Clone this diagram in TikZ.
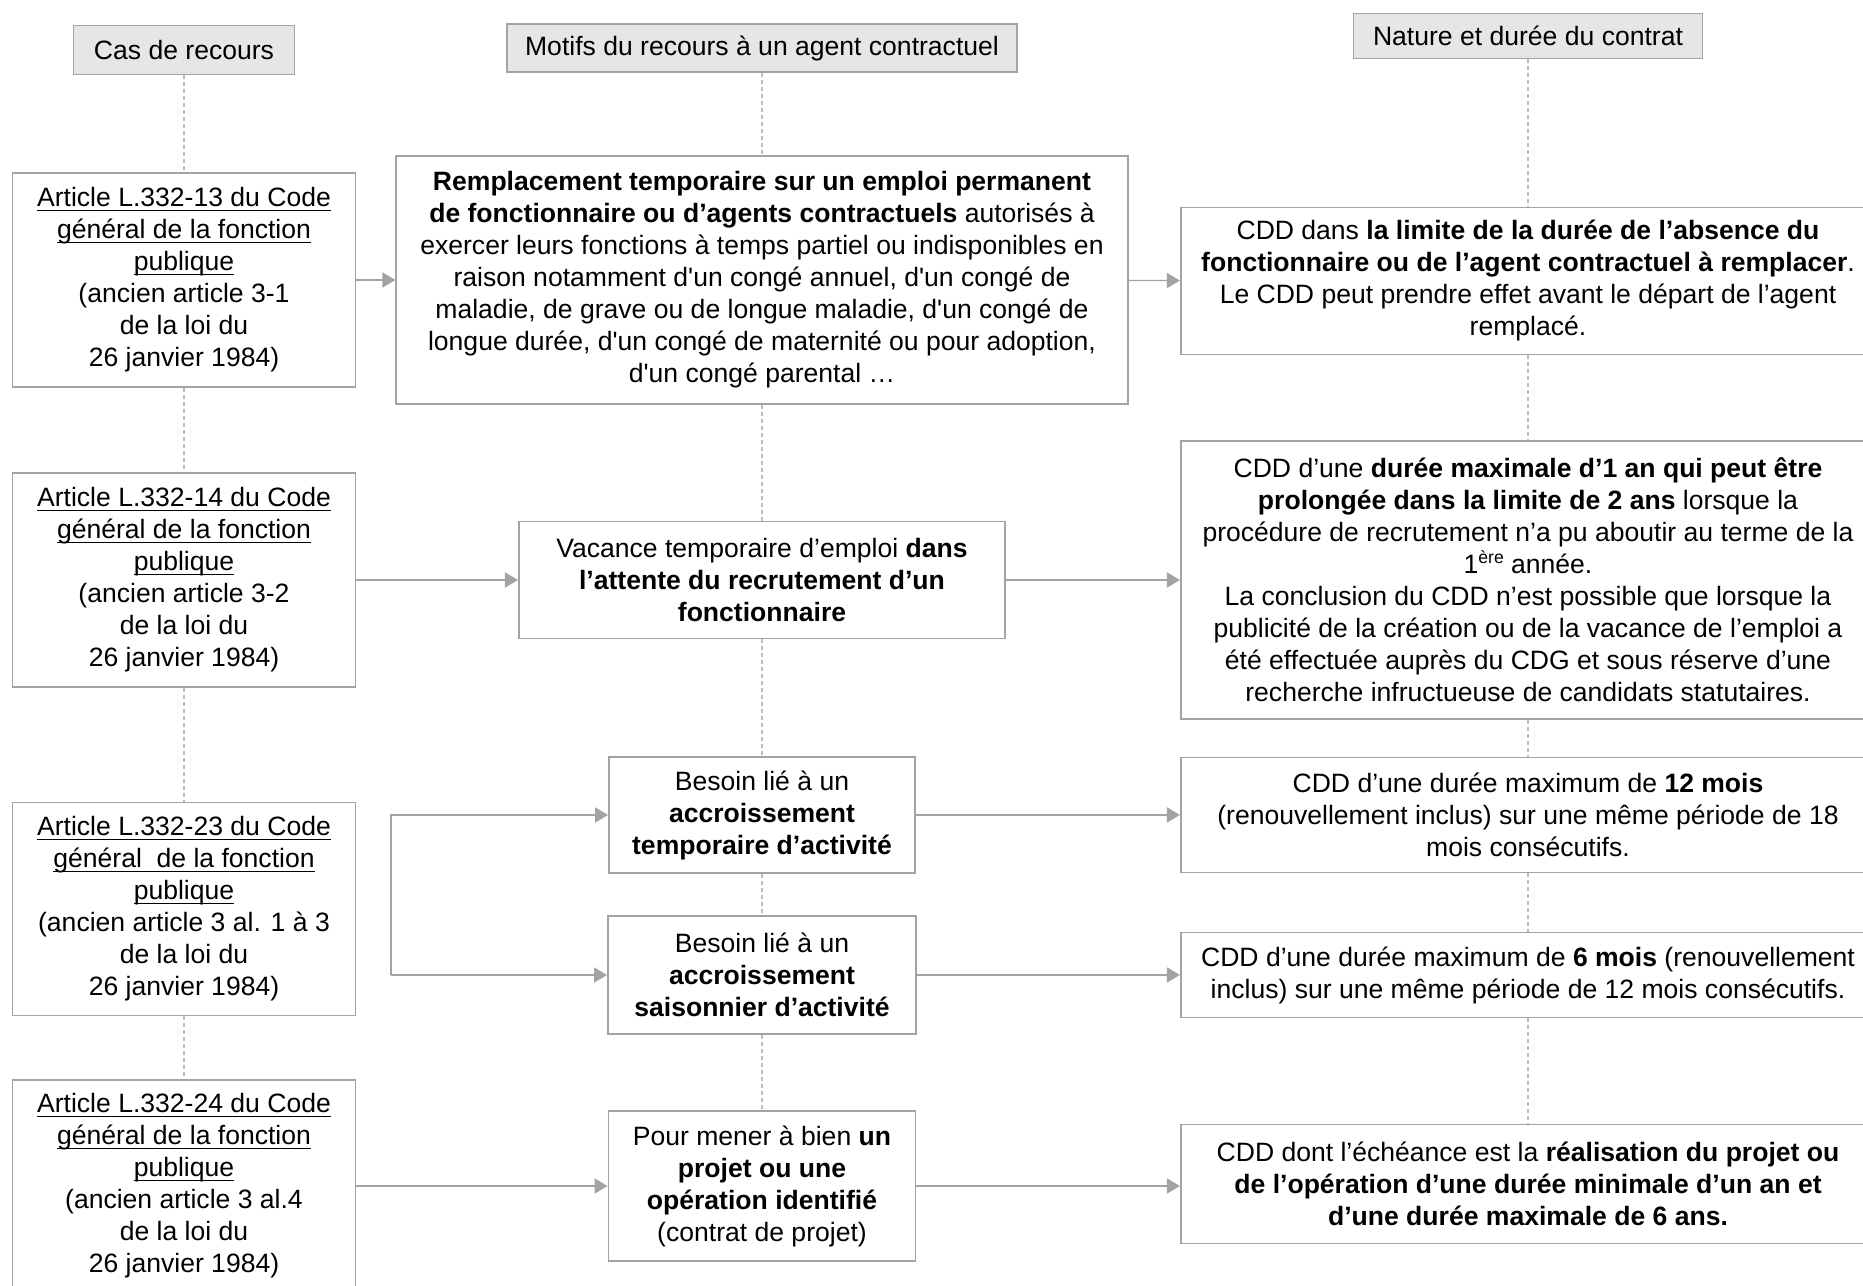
\documentclass[tikz,border=0pt]{standalone}
\usepackage{fontspec}
\setmainfont{Liberation Sans}
\usetikzlibrary{arrows.meta}
\definecolor{boxgray}{HTML}{A3A3A3}
\definecolor{headfill}{HTML}{E6E6E6}
\definecolor{dashgray}{HTML}{BDBDBD}
\newcommand\ulin[1]{\leavevmode\setbox0\hbox{#1}\rlap{\rule[-1.2pt]{\wd0}{0.4pt}}\box0}

\begin{document}
\begin{tikzpicture}[x=0.01cm, y=-0.01cm,
every node/.style = {font=\fontsize{7.55}{9.1}\selectfont, align=center, inner sep=0pt},
head/.style = {draw=boxgray, fill=headfill, line width=0.5pt},
cell/.style = {draw=boxgray, line width=0.5pt},
link/.style = {draw=boxgray, line width=0.4pt, -{Triangle[length=3.7pt,width=4.3pt]}},
guide/.style = {draw=dashgray, line width=0.3pt, dash pattern=on 0.04cm off 0.03cm}]
\clip (0,0) rectangle (1863,1286);

\node[head, minimum width=2.21cm, minimum height=0.49cm] (cas) at (184,50) {Cas de recours};
\node[head, minimum width=5.10cm, minimum height=0.48cm] (motifs) at (762,48) {Motifs du recours à un agent contractuel};
\node[head, minimum width=3.49cm, minimum height=0.45cm] (nature) at (1528,36) {Nature et durée du contrat};

\node[cell, minimum width=3.43cm, minimum height=2.14cm] (art13) at (184,280)
    {\ulin{Article L.332-13 du Code}\\ \ulin{général de la fonction}\\ \ulin{publique}\\
     (ancien article 3-1\\ de la loi du\\ 26 janvier 1984)};
\node[cell, minimum width=3.43cm, minimum height=2.14cm] (art14) at (184,580)
    {\ulin{Article L.332-14 du Code}\\ \ulin{général de la fonction}\\ \ulin{publique}\\
     (ancien article 3-2\\ de la loi du\\ 26 janvier 1984)};
\node[cell, minimum width=3.43cm, minimum height=2.13cm] (art23) at (184,909)
    {\ulin{Article L.332-23 du Code}\\ \ulin{général\ \ de la fonction}\\ \ulin{publique}\\
     (ancien article 3 al. 1 à 3\\ de la loi du\\ 26 janvier 1984)};
\node[cell, minimum width=3.43cm, minimum height=2.12cm] (art24) at (184,1186)
    {\ulin{Article L.332-24 du Code}\\ \ulin{général de la fonction}\\ \ulin{publique}\\
     (ancien article 3 al.4\\ de la loi du\\ 26 janvier 1984)};

\node[cell, minimum width=7.31cm, minimum height=2.48cm] (rempl) at (762,280)
    {\textbf{Remplacement temporaire sur un emploi permanent}\\
     \textbf{de fonctionnaire ou d’agents contractuels} autorisés à\\
     exercer leurs fonctions à temps partiel ou indisponibles en\\
     raison notamment d\textquotesingle un congé annuel, d\textquotesingle un congé de\\
     maladie, de grave ou de longue maladie, d\textquotesingle un congé de\\
     longue durée, d\textquotesingle un congé de maternité ou pour adoption,\\
     d\textquotesingle un congé parental …};
\node[cell, minimum width=4.86cm, minimum height=1.17cm] (vacance) at (762,580)
    {Vacance temporaire d’emploi \textbf{dans}\\ \textbf{l’attente du recrutement d’un}\\ \textbf{fonctionnaire}};
\node[cell, minimum width=3.06cm, minimum height=1.16cm] (temp) at (762,815)
    {Besoin lié à un\\ \textbf{accroissement}\\ \textbf{temporaire d’activité}};
\node[cell, minimum width=3.08cm, minimum height=1.18cm] (saison) at (762,975)
    {Besoin lié à un\\ \textbf{accroissement}\\ \textbf{saisonnier d’activité}};
\node[cell, minimum width=3.07cm, minimum height=1.50cm] (projet) at (762,1186)
    {Pour mener à bien \textbf{un}\\ \textbf{projet ou une}\\ \textbf{opération identifié}\\ (contrat de projet)};

\node[cell, minimum width=6.94cm, minimum height=1.47cm] (cddA) at (1528,281)
    {CDD dans \textbf{la limite de la durée de l’absence du}\\
     \textbf{fonctionnaire ou de l’agent contractuel à remplacer}.\\
     Le CDD peut prendre effet avant le départ de l’agent\\ remplacé.};
\node[cell, minimum width=6.94cm, minimum height=2.78cm] (cddB) at (1528,580)
    {CDD d’une \textbf{durée maximale d’1 an qui peut être}\\
     \textbf{prolongée dans la limite de 2 ans} lorsque la\\
     procédure de recrutement n’a pu aboutir au terme de la\\
     1{\fontsize{5}{5}\selectfont\raisebox{2.8pt}{ère}} année.\\
     La conclusion du CDD n’est possible que lorsque la\\
     publicité de la création ou de la vacance de l’emploi a\\
     été effectuée auprès du CDG et sous réserve d’une\\
     recherche infructueuse de candidats statutaires.};
\node[cell, minimum width=6.94cm, minimum height=1.15cm] (cddC) at (1528,815)
    {CDD d’une durée maximum de \textbf{12 mois}\\
     (renouvellement inclus) sur une même période de 18\\ mois consécutifs.};
\node[cell, minimum width=6.94cm, minimum height=0.85cm] (cddD) at (1528,975)
    {CDD d’une durée maximum de \textbf{6 mois} (renouvellement\\
     inclus) sur une même période de 12 mois consécutifs.};
\node[cell, minimum width=6.94cm, minimum height=1.19cm] (cddE) at (1528,1184)
    {CDD dont l’échéance est la \textbf{réalisation du projet ou}\\
     \textbf{de l’opération d’une durée minimale d’un an et}\\
     \textbf{d’une durée maximale de 6 ans.}};

\foreach \a/\b in {cas/art13, art13/art14, art14/art23, art23/art24,
    motifs/rempl, rempl/vacance, vacance/temp, temp/saison, saison/projet,
    nature/cddA, cddA/cddB, cddB/cddC, cddC/cddD, cddD/cddE}
    \draw[guide] (\a) -- (\b);

\foreach \a/\b in {art13/rempl, rempl/cddA, art14/vacance, vacance/cddB,
    temp/cddC, saison/cddD, art24/projet}
    \draw[link] (\a) -- (\b);
\draw[link] (projet.east) -- (projet.east -| cddE.west);

\coordinate (fork) at (391,815);
\coordinate (forkB) at (391,975);
\draw[link] (forkB) -- (fork) -- (temp);
\draw[link] (forkB) -- (saison);
\end{tikzpicture}
\end{document}
